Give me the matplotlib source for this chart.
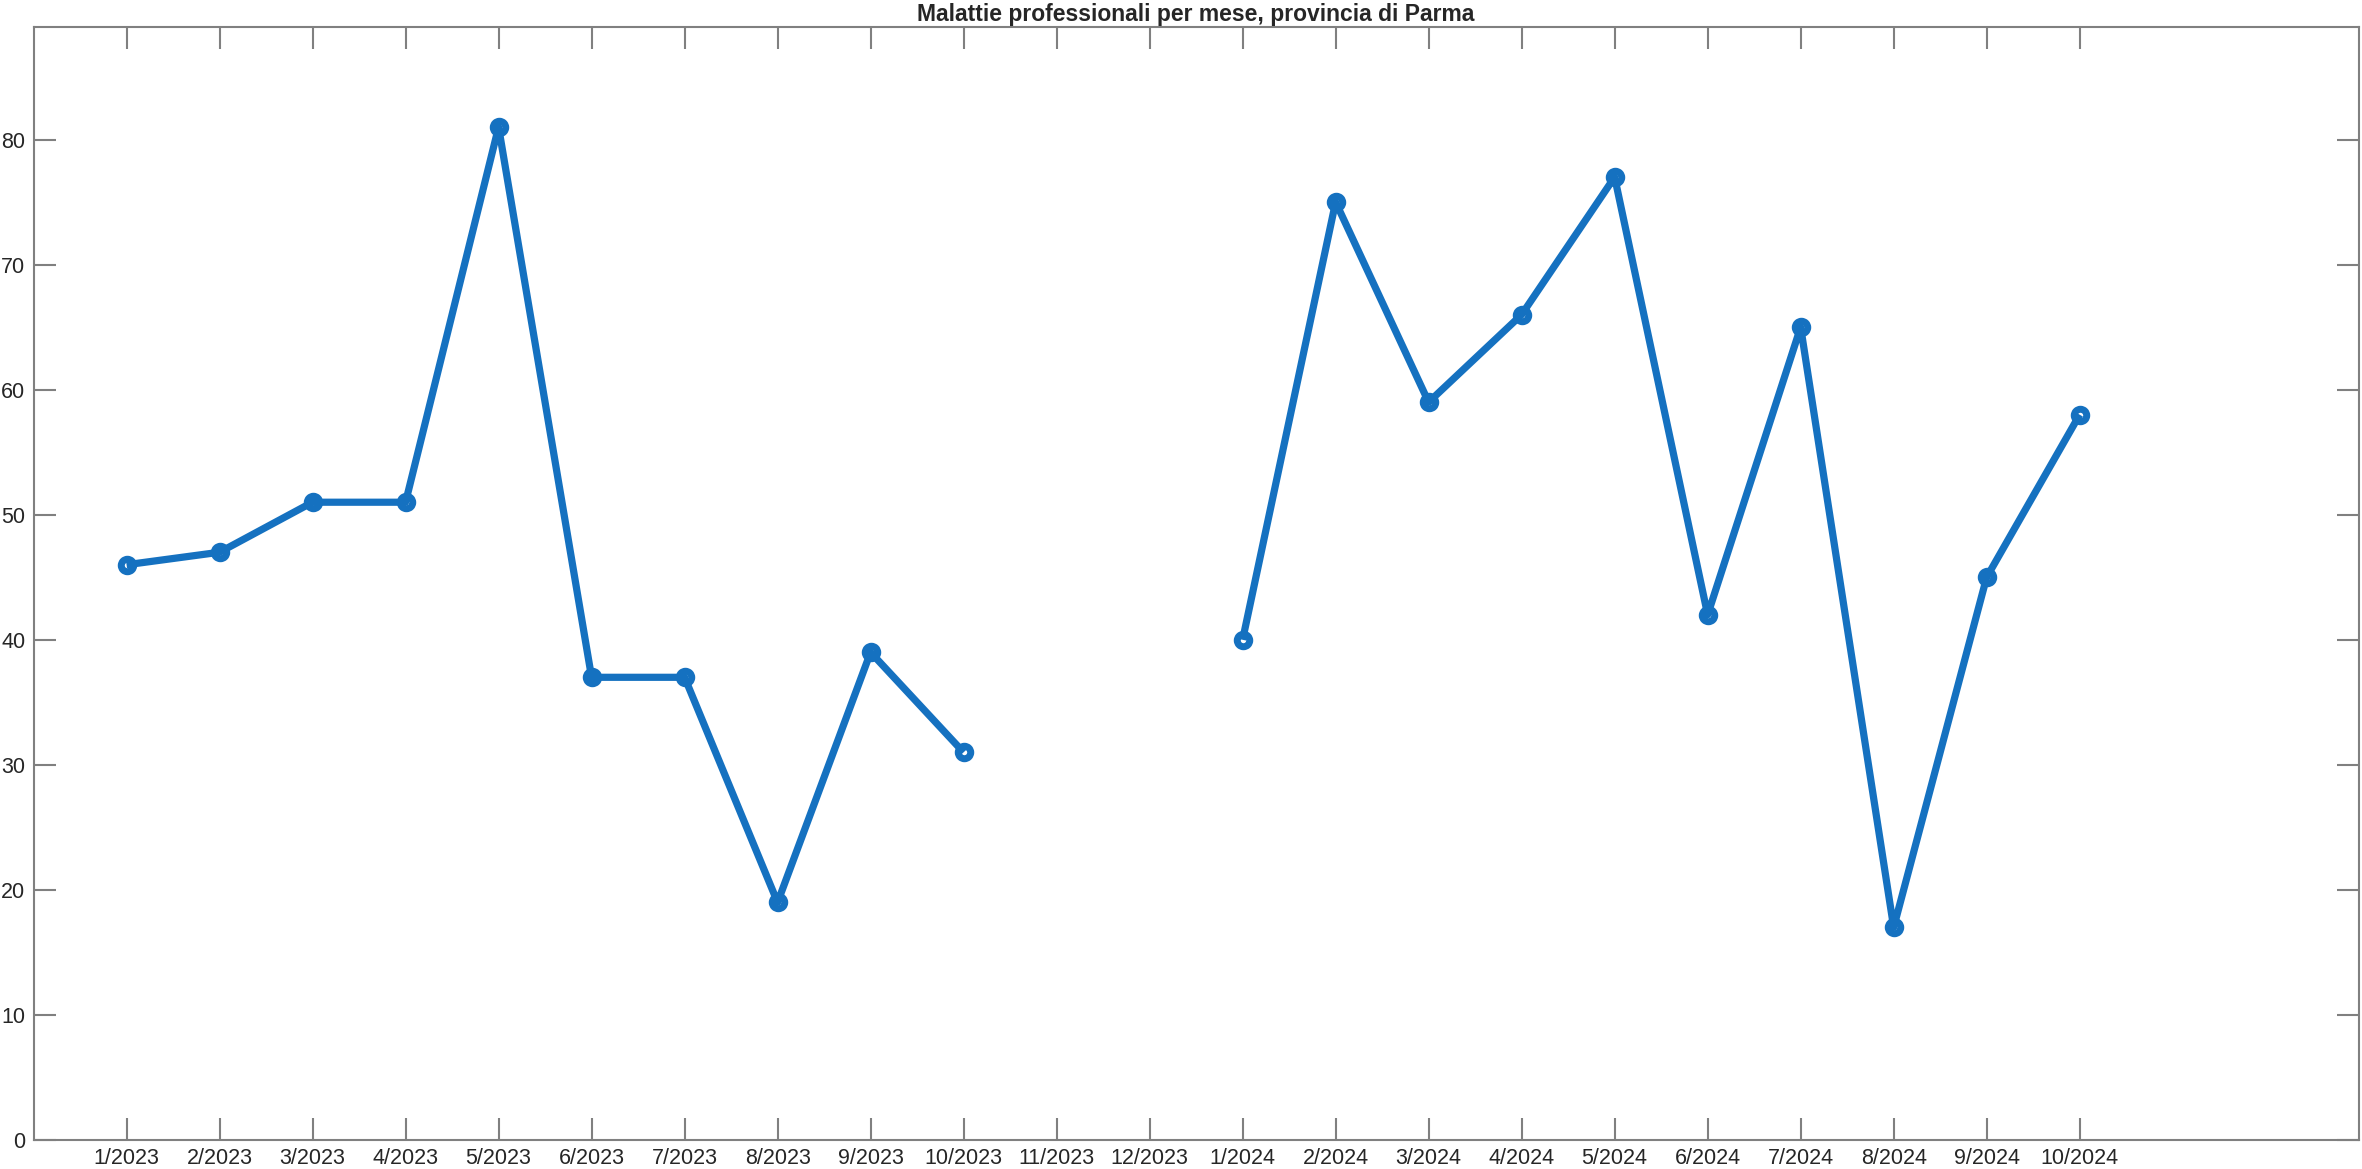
import numpy as np
import matplotlib
matplotlib.use("Agg")
import matplotlib.pyplot as plt

labels = ["1/2023", "2/2023", "3/2023", "4/2023", "5/2023", "6/2023", "7/2023",
          "8/2023", "9/2023", "10/2023", "11/2023", "12/2023",
          "1/2024", "2/2024", "3/2024", "4/2024", "5/2024", "6/2024", "7/2024",
          "8/2024", "9/2024", "10/2024"]
values = [46, 47, 51, 51, 81, 37, 37, 19, 39, 31, np.nan, np.nan,
          40, 75, 59, 66, 77, 42, 65, 17, 45, 58]

plt.rcParams['font.family'] = ['Liberation Sans', 'DejaVu Sans']

fig = plt.figure(figsize=(23.62, 11.69), dpi=100)
ax = fig.add_axes([0.0142, 0.0248, 0.9844, 0.9521])

x = np.arange(1, len(values) + 1)
ax.plot(x, values, color='#1571C0', linewidth=5.2, marker='o', markersize=9,
        markerfacecolor='none', markeredgewidth=5, solid_joinstyle='round',
        solid_capstyle='butt')

ax.set_xlim(0, 25)
ax.set_ylim(0, 89)
ax.set_xticks(x)
ax.set_xticklabels(labels)
ax.set_yticks(np.arange(0, 90, 10))

gray = '#808080'
for s in ax.spines.values():
    s.set_color(gray)
    s.set_linewidth(1.5)
ax.tick_params(axis='both', direction='in', length=16, width=1.5, color=gray,
               labelsize=15.5, labelcolor='#262626', top=True, right=True, pad=6)
ax.set_title("Malattie professionali per mese, provincia di Parma",
             fontsize=16.5, fontweight='bold', color='#262626', pad=4)

fig.savefig("out.png", dpi=100)
